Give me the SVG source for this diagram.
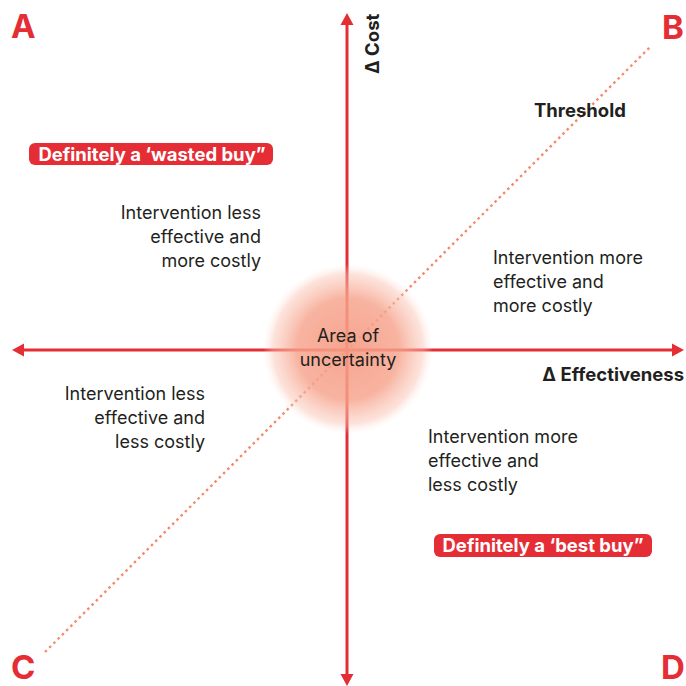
<svg xmlns="http://www.w3.org/2000/svg" width="686" height="686" viewBox="0 0 686 686">
<defs>
<style>
.axis{stroke:#e52d35;stroke-width:3;fill:none}
.head{fill:#e52d35}
.thr{stroke:#f4896b;stroke-width:2.4;stroke-dasharray:2.5 3.5;fill:none}
.corner{font-family:Inter,"Liberation Sans",sans-serif;font-weight:700;font-size:33px;fill:#e52d35}
.lbl{font-family:Inter,"Liberation Sans",sans-serif;font-weight:700;font-size:18.5px;fill:#231f20}
.body{font-family:Inter,"Liberation Sans",sans-serif;font-size:18px;fill:#231f20}
.pill{fill:#e52d35}
.pilltxt{font-family:Inter,"Liberation Sans",sans-serif;font-weight:700;font-size:18.5px;fill:#ffffff}
</style>
<radialGradient id="unc" cx="0.5" cy="0.5" r="0.5">
<stop offset="0" stop-color="#f59c84" stop-opacity="0.92"/>
<stop offset="0.6" stop-color="#f6a38c" stop-opacity="0.82"/>
<stop offset="0.88" stop-color="#f9bfae" stop-opacity="0.45"/>
<stop offset="1" stop-color="#fde3da" stop-opacity="0"/>
</radialGradient>
</defs>
<rect width="686" height="686" fill="#ffffff"/>
<g id="connectors">
<line class="thr" x1="45" y1="652" x2="650" y2="47"/>
<line class="axis" x1="347" y1="24" x2="347" y2="675"/>
<polygon class="head" points="347,13 340.5,25 353.5,25"/>
<polygon class="head" points="347,686 340.5,674 353.5,674"/>
<line class="axis" x1="23" y1="350" x2="673" y2="350"/>
<polygon class="head" points="12,350 24,343.5 24,356.5"/>
<polygon class="head" points="684,350 672,343.5 672,356.5"/>
</g>
<g id="uncertainty">
<circle cx="348" cy="349" r="85" fill="url(#unc)"/>
<text class="body" x="348" y="342" text-anchor="middle">Area of</text>
<text class="body" x="348" y="366" text-anchor="middle">uncertainty</text>
</g>
<g id="corners">
<text class="corner" x="11" y="38">A</text>
<text class="corner" x="662" y="39">B</text>
<text class="corner" x="11" y="679">C</text>
<text class="corner" x="661" y="679">D</text>
</g>
<g id="axis-labels">
<text class="lbl" transform="translate(379,74) rotate(-90)">Δ Cost</text>
<text class="lbl" x="684" y="381" text-anchor="end" font-size="19">Δ Effectiveness</text>
<text class="lbl" x="534" y="117">Threshold</text>
</g>
<g id="wasted-buy">
<rect class="pill" x="29" y="143" width="244" height="22" rx="6"/>
<text class="pilltxt" x="152" y="160.5" text-anchor="middle">Definitely a ‘wasted buy”</text>
</g>
<g id="best-buy">
<rect class="pill" x="434" y="534" width="218" height="23" rx="6"/>
<text class="pilltxt" x="543" y="552" text-anchor="middle">Definitely a ‘best buy”</text>
</g>
<g id="quad-A">
<text class="body" x="261" y="219" text-anchor="end">Intervention less</text>
<text class="body" x="261" y="243" text-anchor="end">effective and</text>
<text class="body" x="261" y="267" text-anchor="end">more costly</text>
</g>
<g id="quad-B">
<text class="body" x="493" y="264">Intervention more</text>
<text class="body" x="493" y="288">effective and</text>
<text class="body" x="493" y="312">more costly</text>
</g>
<g id="quad-C">
<text class="body" x="205" y="400" text-anchor="end">Intervention less</text>
<text class="body" x="205" y="424" text-anchor="end">effective and</text>
<text class="body" x="205" y="448" text-anchor="end">less costly</text>
</g>
<g id="quad-D">
<text class="body" x="428" y="443">Intervention more</text>
<text class="body" x="428" y="467">effective and</text>
<text class="body" x="428" y="491">less costly</text>
</g>
</svg>
